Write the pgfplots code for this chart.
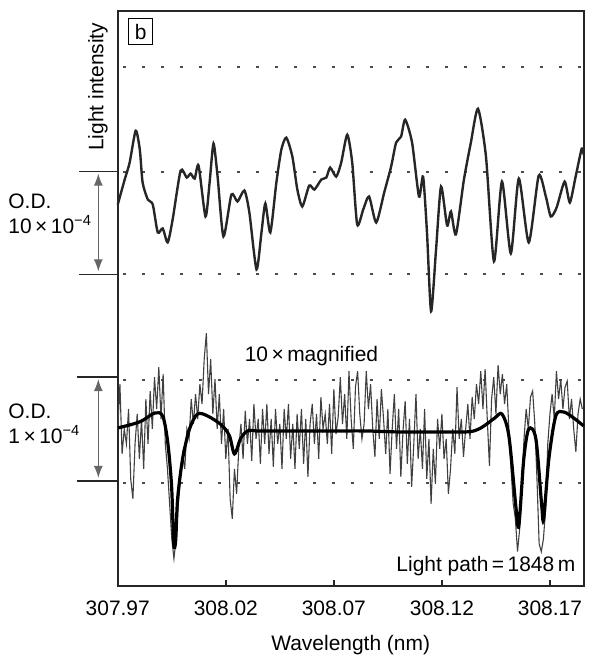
\documentclass[border=0pt]{standalone}
\usepackage{fontspec}
\setmainfont{Liberation Sans}
\usepackage{pgfplots}
\pgfplotsset{compat=1.18}
\usetikzlibrary{arrows.meta}

\begin{document}
\begin{tikzpicture}[font=\fontsize{10.5}{12.5}\selectfont]
\begin{axis}[
  scale only axis, width=233.5pt, height=288pt,
  xmin=307.97, xmax=308.1856, ymin=0, ymax=576,
  xtick={307.97,308.02,308.07,308.12,308.17},
  xticklabels={307.97,308.02,308.07,308.12,308.17},
  xtick pos=left, tick align=inside, major tick length=3pt,
  ytick=\empty,
  axis line style={line width=1pt, black!85},
  tick style={line width=0.8pt, black!85},
  xticklabel style={yshift=-4pt},
  xlabel={Wavelength (nm)},
  xlabel style={inner sep=0pt, yshift=-6.5pt},
  clip=false,
]
% bounding box of the whole picture
\path (axis cs:307.9155,587) rectangle (axis cs:308.1861,-68);

% dotted reference lines
\foreach \yy in {520,415,312,206,103} {
  \edef\tmp{\noexpand\addplot[black!70, line width=1pt, dash pattern=on 1.5pt off 8pt, forget plot] coordinates {(307.9725,\yy) (308.1850,\yy)};}
  \tmp
}

% upper trace (light intensity)
\addplot[black!85, line width=1.2pt, smooth, tension=0.4] table {
307.9700 382
307.9732 407
307.9755 424
307.9783 456
307.9802 437
307.9815 404
307.9839 387
307.9862 382
307.9885 354
307.9908 358
307.9931 344
307.9954 367
307.9991 416
308.0019 409
308.0037 413
308.0056 408
308.0074 421
308.0106 370
308.0125 404
308.0143 443
308.0162 410
308.0189 350
308.0226 392
308.0254 385
308.0286 396
308.0309 374
308.0342 317
308.0365 354
308.0383 383
308.0406 354
308.0434 404
308.0457 437
308.0480 449
308.0508 430
308.0531 397
308.0554 380
308.0586 401
308.0610 397
308.0642 407
308.0665 409
308.0683 419
308.0711 410
308.0734 424
308.0762 452
308.0785 424
308.0808 362
308.0836 377
308.0863 390
308.0896 364
308.0933 394
308.0965 420
308.0988 444
308.1011 450
308.1030 467
308.1062 444
308.1094 390
308.1113 410
308.1131 354
308.1150 275
308.1173 337
308.1196 400
308.1224 361
308.1242 375
308.1265 352
308.1302 407
308.1334 444
308.1367 478
308.1404 430
308.1441 325
308.1478 405
308.1519 333
308.1556 408
308.1602 344
308.1648 411
308.1681 390
308.1704 370
308.1731 379
308.1768 405
308.1792 384
308.1819 410
308.1847 438
308.1856 432
};

% lower noisy trace (10x magnified)
\addplot[black!75, line width=0.55pt] table {
307.970 157
307.971 202
307.972 132
307.973 157
307.974 142
307.975 177
307.976 107
307.977 87
307.978 142
307.979 172
307.980 127
307.981 167
307.982 117
307.983 187
307.984 142
307.985 195
307.986 157
307.987 209
307.988 177
307.989 219
307.990 167
307.991 212
307.992 142
307.993 117
307.994 82
307.995 47
307.996 27
307.997 47
307.998 82
307.999 107
308.000 132
308.001 117
308.002 157
308.003 147
308.004 187
308.005 162
308.006 192
308.007 167
308.008 202
308.009 182
308.010 227
308.011 253
308.012 192
308.013 227
308.014 172
308.015 207
308.016 157
308.017 192
308.018 142
308.019 177
308.020 127
308.021 157
308.022 87
308.023 67
308.024 117
308.025 92
308.026 137
308.027 162
308.028 127
308.029 175
308.030 142
308.031 167
308.032 125
308.033 182
308.034 147
308.035 167
308.036 122
308.037 177
308.038 142
308.039 182
308.040 132
308.041 167
308.042 119
308.043 177
308.044 142
308.045 162
308.046 117
308.047 177
308.048 147
308.049 182
308.050 127
308.051 162
308.052 117
308.053 172
308.054 137
308.055 177
308.056 122
308.057 167
308.058 109
308.059 162
308.060 182
308.061 142
308.062 172
308.063 127
308.064 189
308.065 157
308.066 172
308.067 142
308.068 182
308.069 132
308.070 197
308.071 152
308.072 169
308.073 209
308.074 162
308.075 192
308.076 147
308.077 215
308.078 167
308.079 137
308.080 199
308.081 215
308.082 172
308.083 147
308.084 162
308.085 215
308.086 177
308.087 202
308.088 157
308.089 129
308.090 187
308.091 147
308.092 197
308.093 167
308.094 132
308.095 177
308.096 112
308.097 157
308.098 192
308.099 137
308.100 177
308.101 109
308.102 155
308.103 185
308.104 122
308.105 167
308.106 99
308.107 142
308.108 192
308.109 127
308.110 157
308.111 117
308.112 177
308.113 107
308.114 147
308.115 82
308.116 137
308.117 102
308.118 167
308.119 137
308.120 172
308.121 127
308.122 147
308.123 92
308.124 117
308.125 157
308.126 132
308.127 199
308.128 147
308.129 167
308.130 129
308.131 157
308.132 182
308.133 147
308.134 189
308.135 167
308.136 202
308.137 182
308.138 215
308.139 177
308.140 217
308.141 167
308.142 120
308.143 187
308.144 209
308.145 172
308.146 221
308.147 192
308.148 212
308.149 182
308.150 202
308.151 157
308.152 117
308.153 82
308.154 67
308.155 34
308.156 57
308.157 102
308.158 147
308.159 177
308.160 157
308.161 189
308.162 195
308.163 162
308.164 107
308.165 42
308.166 34
308.167 47
308.168 77
308.169 142
308.170 172
308.171 192
308.172 167
308.173 215
308.174 187
308.175 207
308.176 177
308.177 199
308.178 205
308.179 167
308.180 187
308.181 157
308.182 134
308.183 172
308.184 187
308.185 177
};

% lower fitted curve
\addplot[black, line width=1.6pt, smooth, tension=0.5] table {
307.9700 158
307.9755 161
307.9811 165
307.9871 173
307.9908 170
307.9931 144
307.9949 100
307.9959 42
307.9968 45
307.9977 87
308.0000 127
308.0032 157
308.0069 172
308.0116 170
308.0180 161
308.0217 150
308.0240 132
308.0268 147
308.0300 155
308.0350 155
308.0425 155
308.0550 155
308.0700 155
308.0850 155
308.1000 154
308.1150 154
308.1250 154
308.1310 154
308.1348 155
308.1380 158
308.1408 162
308.1445 168
308.1478 172
308.1510 150
308.1542 80
308.1556 60
308.1579 127
308.1602 157
308.1635 147
308.1662 80
308.1671 67
308.1695 127
308.1727 170
308.1764 174
308.1810 168
308.1856 160
};

% left-side annotations
\draw[black!85, line width=0.8pt] (axis cs:307.9520,415) -- (axis cs:307.9700,415);
\draw[black!85, line width=0.8pt] (axis cs:307.9520,312) -- (axis cs:307.9700,312);
\draw[black!60, line width=0.6pt, {Latex[length=6pt,width=4.5pt]}-{Latex[length=6pt,width=4.5pt]}] (axis cs:307.9610,413) -- (axis cs:307.9610,315);
\draw[black!85, line width=0.8pt] (axis cs:307.9511,209) -- (axis cs:307.9700,209);
\draw[black!85, line width=0.8pt] (axis cs:307.9511,105) -- (axis cs:307.9700,105);
\draw[black!60, line width=0.6pt, {Latex[length=6pt,width=4.5pt]}-{Latex[length=6pt,width=4.5pt]}] (axis cs:307.9610,207) -- (axis cs:307.9610,108);

\node[anchor=west, align=left, inner sep=0pt] at (axis cs:307.9192,373) {O.D.\\10\,×\,10\textsuperscript{−4}};
\node[anchor=west, align=left, inner sep=0pt] at (axis cs:307.9192,162) {O.D.\\1\,×\,10\textsuperscript{−4}};

\node[rotate=90, inner sep=0pt] at (axis cs:307.9608,500) {Light intensity};
\node[draw, line width=0.5pt, minimum width=12pt, minimum height=13pt, inner sep=1pt] at (axis cs:307.9806,555) {b};
\node[anchor=west, inner sep=0pt] at (axis cs:308.0286,230) {10\,×\,magnified};
\node[anchor=east, inner sep=0pt] at (axis cs:308.1819,20) {Light path\,=\,1848\,m};
\end{axis}
\end{tikzpicture}
\end{document}
